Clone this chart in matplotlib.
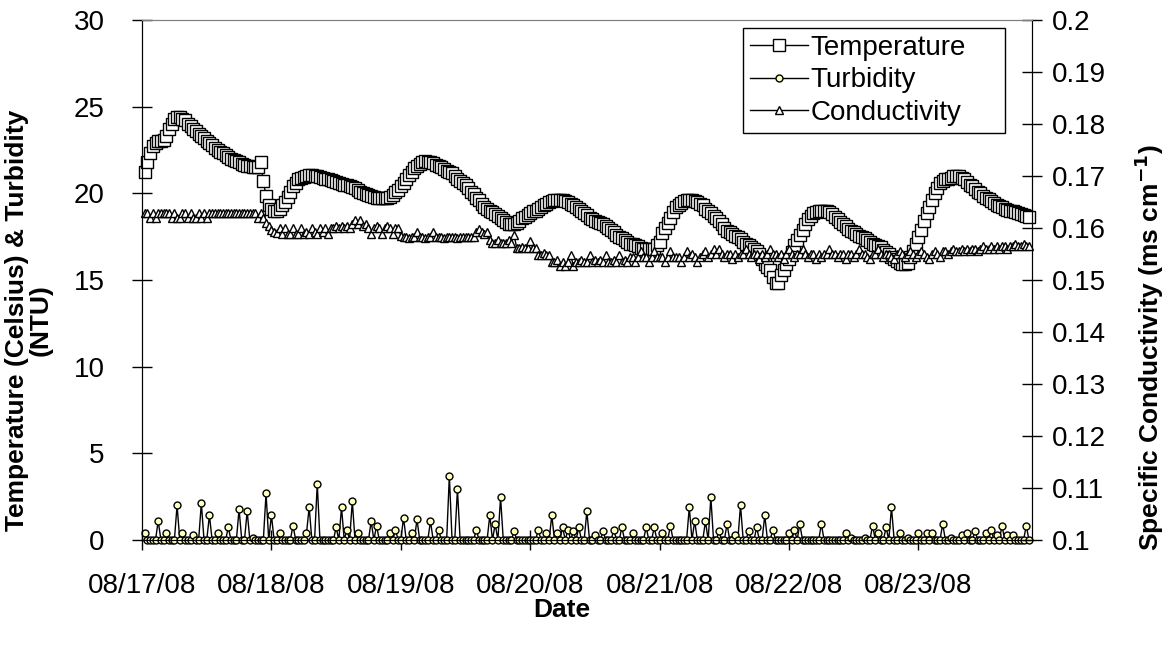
import pandas as pd
import matplotlib
matplotlib.use("Agg")
import matplotlib.pyplot as plt
import matplotlib.dates as mdates
from matplotlib.ticker import FuncFormatter, MultipleLocator

plt.rcParams['font.family'] = ['Liberation Sans', 'DejaVu Sans']

# readings every 30 minutes, first one at 00:30 on 08/17/08
start_time = "2008-08-17 00:30"
sample_step = "30min"

# Temperature (Celsius)
temperature = [
    21.2, 21.8, 22.3, 22.7, 22.9, 23.0, 23.0, 23.1, 23.3, 23.7, 24.0, 24.3, 24.4, 24.4, 24.3, 24.2, 24.0, 23.9, 23.7, 23.6, 23.4, 23.3, 23.2, 23.0,
    22.9, 22.8, 22.6, 22.5, 22.4, 22.3, 22.2, 22.1, 22.0, 21.9, 21.85, 21.8, 21.7, 21.65, 21.6, 21.55, 21.5, 21.5, 21.5, 21.8, 20.7, 19.85, 19.3, 19.1,
    19.0, 19.0, 19.1, 19.3, 19.5, 19.8, 20.1, 20.4, 20.6, 20.8, 20.9, 20.95, 21.0, 21.05, 21.05, 21.0, 21.0, 20.95, 20.9, 20.85, 20.8, 20.75, 20.7, 20.65,
    20.6, 20.55, 20.5, 20.45, 20.4, 20.35, 20.3, 20.2, 20.1, 20.0, 19.95, 19.9, 19.85, 19.8, 19.75, 19.7, 19.7, 19.7, 19.7, 19.8, 19.9, 20.05, 20.2, 20.4,
    20.6, 20.8, 21.05, 21.25, 21.45, 21.6, 21.7, 21.8, 21.85, 21.8, 21.8, 21.75, 21.65, 21.6, 21.5, 21.4, 21.3, 21.2, 21.15, 21.0, 20.85, 20.7, 20.6, 20.45,
    20.3, 20.1, 19.95, 19.75, 19.6, 19.4, 19.2, 19.1, 19.0, 18.9, 18.8, 18.7, 18.55, 18.45, 18.35, 18.25, 18.2, 18.2, 18.3, 18.4, 18.55, 18.65, 18.75, 18.85,
    18.95, 19.0, 19.1, 19.2, 19.3, 19.4, 19.5, 19.55, 19.6, 19.6, 19.6, 19.6, 19.55, 19.5, 19.4, 19.3, 19.2, 19.1, 18.95, 18.85, 18.75, 18.6, 18.5, 18.4,
    18.35, 18.3, 18.2, 18.1, 18.0, 17.9, 17.75, 17.6, 17.5, 17.4, 17.3, 17.2, 17.1, 17.05, 17.0, 16.95, 16.85, 16.8, 16.8, 16.8, 16.8, 16.8, 17.0, 17.2,
    17.7, 18.0, 18.3, 18.6, 18.9, 19.2, 19.35, 19.45, 19.55, 19.6, 19.6, 19.6, 19.55, 19.5, 19.4, 19.3, 19.1, 19.0, 18.85, 18.7, 18.55, 18.4, 18.2, 18.0,
    17.85, 17.75, 17.65, 17.55, 17.5, 17.35, 17.2, 17.1, 17.0, 16.9, 16.8, 16.65, 16.5, 16.2, 15.95, 15.75, 15.55, 15.2, 14.8, 14.8, 15.3, 15.6, 15.9, 16.2,
    16.6, 17.0, 17.3, 17.6, 17.9, 18.2, 18.5, 18.7, 18.85, 18.9, 18.95, 19.0, 19.0, 18.95, 18.9, 18.8, 18.65, 18.5, 18.35, 18.2, 18.1, 17.95, 17.85, 17.75,
    17.65, 17.55, 17.5, 17.4, 17.3, 17.2, 17.1, 17.0, 16.95, 16.9, 16.75, 16.6, 16.5, 16.35, 16.2, 16.1, 16.0, 15.95, 15.95, 16.0, 16.3, 16.7, 17.1, 17.5,
    17.9, 18.4, 18.85, 19.2, 19.6, 20.0, 20.3, 20.6, 20.7, 20.8, 20.85, 20.9, 21.0, 21.0, 21.0, 20.9, 20.8, 20.65, 20.5, 20.4, 20.25, 20.1, 20.0, 19.85,
    19.75, 19.65, 19.55, 19.45, 19.35, 19.25, 19.2, 19.1, 19.05, 19.0, 18.95, 18.9, 18.85, 18.8, 18.75, 18.7, 18.65,
]

# Turbidity (NTU)
turbidity = [
    0.38, 0, 0, 0, 0, 1.1, 0, 0, 0.38, 0, 0, 0, 2.0, 0, 0.38, 0, 0, 0, 0.3, 0, 0, 2.12, 0, 0,
    1.42, 0, 0, 0.38, 0, 0, 0, 0.73, 0, 0, 0, 1.77, 0, 0, 1.65, 0, 0.1, 0, 0, 0, 0, 2.69, 0, 1.42,
    0, 0, 0.38, 0, 0, 0, 0, 0.83, 0, 0, 0, 0, 0.38, 1.88, 0, 0, 3.25, 0, 0, 0, 0, 0, 0, 0.73,
    0, 1.88, 0, 0.6, 0, 2.23, 0, 0.38, 0, 0, 0, 0, 1.08, 0, 0.83, 0, 0, 0, 0, 0.38, 0, 0.6, 0, 0,
    1.29, 0, 0, 0.38, 0, 1.19, 0, 0, 0, 0, 1.08, 0, 0, 0.6, 0, 0, 0, 3.71, 0, 0, 2.92, 0, 0, 0,
    0, 0, 0, 0.6, 0, 0, 0, 0, 1.42, 0, 0.92, 0, 2.46, 0, 0, 0, 0, 0.5, 0, 0, 0, 0, 0, 0,
    0, 0, 0.6, 0, 0, 0.38, 0, 1.42, 0, 0.38, 0, 0.73, 0, 0.6, 0, 0.5, 0, 0.73, 0, 0, 1.65, 0, 0, 0.26,
    0, 0, 0.5, 0, 0, 0, 0.6, 0, 0, 0.73, 0, 0, 0, 0.38, 0, 0, 0, 0, 0.73, 0, 0, 0.73, 0, 0,
    0.38, 0, 0, 0.83, 0, 0, 0, 0, 0, 0, 1.88, 0, 1.08, 0, 0, 0, 1.08, 0, 2.46, 0, 0, 0.5, 0, 0,
    0.92, 0, 0, 0.26, 0, 2.0, 0, 0, 0.5, 0, 0, 0.73, 0, 0, 1.42, 0, 0, 0.6, 0, 0, 0, 0, 0, 0.38,
    0, 0.6, 0, 0.92, 0, 0, 0, 0, 0, 0, 0, 0.92, 0, 0, 0, 0, 0, 0, 0, 0, 0.38, 0, 0.1, 0,
    0, 0, 0, 0.1, 0, 0, 0.83, 0, 0.38, 0, 0, 0.73, 0, 1.88, 0, 0, 0.38, 0, 0, 0.1, 0, 0, 0, 0.38,
    0, 0, 0.38, 0, 0.38, 0, 0, 0, 0.92, 0, 0, 0.1, 0, 0, 0, 0.26, 0, 0.38, 0, 0, 0.5, 0, 0, 0,
    0.38, 0, 0.6, 0, 0.26, 0, 0.83, 0, 0.26, 0, 0.26, 0, 0, 0, 0, 0.83, 0,
]

# Specific conductivity (ms cm-1)
conductivity = [
    0.1628, 0.1628, 0.1619, 0.1628, 0.1619, 0.1628, 0.1628, 0.1628, 0.1628, 0.1628, 0.1619, 0.1628,
    0.1619, 0.1619, 0.1628, 0.1628, 0.1619, 0.1628, 0.1619, 0.1619, 0.1628, 0.1619, 0.1628, 0.1619,
    0.1628, 0.1628, 0.1628, 0.1628, 0.1628, 0.1628, 0.1628, 0.1628, 0.1628, 0.1628, 0.1628, 0.1628,
    0.1628, 0.1628, 0.1628, 0.1628, 0.1628, 0.1628, 0.1619, 0.1628, 0.1619, 0.1610, 0.1603, 0.1597,
    0.1592, 0.1590, 0.1600, 0.1588, 0.1600, 0.1588, 0.1588, 0.1600, 0.1588, 0.1588, 0.1600, 0.1588,
    0.1593, 0.1588, 0.1600, 0.1593, 0.1588, 0.1600, 0.1593, 0.1600, 0.1588, 0.1600, 0.1600, 0.1603,
    0.1600, 0.1603, 0.1600, 0.1603, 0.1600, 0.1608, 0.1615, 0.1608, 0.1615, 0.1603, 0.1608, 0.1600,
    0.1588, 0.1600, 0.1603, 0.1600, 0.1588, 0.1600, 0.1603, 0.1600, 0.1588, 0.1600, 0.1600, 0.1585,
    0.1583, 0.1583, 0.1580, 0.1583, 0.1583, 0.1593, 0.1583, 0.1583, 0.1580, 0.1583, 0.1583, 0.1593,
    0.1583, 0.1583, 0.1583, 0.1580, 0.1583, 0.1583, 0.1583, 0.1583, 0.1580, 0.1583, 0.1583, 0.1583,
    0.1583, 0.1583, 0.1583, 0.1593, 0.1598, 0.1593, 0.1588, 0.1593, 0.1577, 0.1571, 0.1571, 0.1577,
    0.1571, 0.1571, 0.1571, 0.1577, 0.1571, 0.1587, 0.1561, 0.1561, 0.1564, 0.1561, 0.1561, 0.1574,
    0.1561, 0.1561, 0.1548, 0.1548, 0.1552, 0.1548, 0.1548, 0.1535, 0.1535, 0.1538, 0.1527, 0.1535,
    0.1527, 0.1535, 0.1548, 0.1527, 0.1535, 0.1535, 0.1538, 0.1535, 0.1535, 0.1548, 0.1535, 0.1538,
    0.1535, 0.1538, 0.1535, 0.1548, 0.1535, 0.1535, 0.1538, 0.1535, 0.1548, 0.1535, 0.1538, 0.1535,
    0.1545, 0.1545, 0.1535, 0.1545, 0.1555, 0.1545, 0.1545, 0.1535, 0.1545, 0.1555, 0.1545, 0.1545,
    0.1545, 0.1535, 0.1545, 0.1555, 0.1545, 0.1545, 0.1545, 0.1535, 0.1545, 0.1555, 0.1545, 0.1550,
    0.1545, 0.1535, 0.1545, 0.1550, 0.1555, 0.1545, 0.1550, 0.1560, 0.1550, 0.1560, 0.1550, 0.1545,
    0.1550, 0.1550, 0.1540, 0.1550, 0.1545, 0.1550, 0.1550, 0.1560, 0.1550, 0.1545, 0.1550, 0.1550,
    0.1540, 0.1550, 0.1545, 0.1550, 0.1560, 0.1550, 0.1550, 0.1545, 0.1550, 0.1540, 0.1550, 0.1560,
    0.1550, 0.1545, 0.1550, 0.1550, 0.1560, 0.1550, 0.1545, 0.1550, 0.1550, 0.1540, 0.1550, 0.1545,
    0.1550, 0.1550, 0.1560, 0.1550, 0.1550, 0.1545, 0.1550, 0.1550, 0.1540, 0.1550, 0.1550, 0.1545,
    0.1550, 0.1560, 0.1550, 0.1550, 0.1545, 0.1540, 0.1550, 0.1550, 0.1560, 0.1550, 0.1545, 0.1550,
    0.1550, 0.1545, 0.1540, 0.1550, 0.1555, 0.1550, 0.1545, 0.1550, 0.1555, 0.1550, 0.1545, 0.1550,
    0.1555, 0.1550, 0.1545, 0.1540, 0.1550, 0.1555, 0.1550, 0.1545, 0.1555, 0.1555, 0.1550, 0.1555,
    0.1560, 0.1555, 0.1555, 0.1560, 0.1555, 0.1560, 0.1555, 0.1560, 0.1560, 0.1555, 0.1560, 0.1565,
    0.1560, 0.1560, 0.1565, 0.1560, 0.1565, 0.1560, 0.1565, 0.1565, 0.1560, 0.1565, 0.1565, 0.1570,
    0.1565, 0.1565, 0.1570, 0.1565, 0.1565,
]

times = pd.date_range(start_time, periods=len(temperature), freq=sample_step)

fig = plt.figure(figsize=(11.68, 6.48), dpi=100)
ax = fig.add_axes([0.1216, 0.1667, 0.762, 0.8025])
ax2 = ax.twinx()

l1, = ax.plot(times, temperature, color="black", lw=1, marker="s", ms=8,
              mfc="white", mec="black", mew=1, label="Temperature", clip_on=False)
l2, = ax.plot(times, turbidity, color="black", lw=1, marker="o", ms=5,
              mfc="#FFFFC0", mec="black", mew=1, label="Turbidity", clip_on=False)
l3, = ax2.plot(times, conductivity, color="black", lw=1, marker="^", ms=6,
               mfc="white", mec="black", mew=1, label="Conductivity", clip_on=False)

# axes ranges
x0 = pd.Timestamp("2008-08-17")
ax.set_xlim(x0, x0 + pd.Timedelta(days=6.878))
ax.set_ylim(0, 30)
ax2.set_ylim(0.1, 0.2)
ax.yaxis.set_major_locator(MultipleLocator(5))
ax2.yaxis.set_major_locator(MultipleLocator(0.01))
ax2.yaxis.set_major_formatter(FuncFormatter(lambda v, p: f"{round(v, 2):g}"))
ax.xaxis.set_major_locator(mdates.DayLocator())
ax.xaxis.set_major_formatter(mdates.DateFormatter("%m/%d/%y"))

for a in (ax, ax2):
    a.tick_params(direction="inout", length=14, width=1, labelsize=20)
    a.spines["top"].set_color("#808080")
ax.tick_params(axis="x", pad=17)
ax.tick_params(axis="y", pad=20)
ax2.tick_params(axis="y", pad=7)

ax.set_xlabel("Date", fontsize=19, fontweight="bold")
ax.xaxis.set_label_coords(0.472, -0.1115)
ax.set_ylabel("Temperature (Celsius) & Turbidity\n(NTU)", fontsize=19,
              fontweight="bold", linespacing=0.95)
ax.yaxis.set_label_coords(-0.101, 0.423)
ax2.set_ylabel("Specific Conductivity (ms cm$^{\\mathbf{-1}}$)", fontsize=19,
               fontweight="bold", rotation=90)
ax2.yaxis.set_label_coords(1.113, 0.369)

leg = ax2.legend([l1, l2, l3], ["Temperature", "Turbidity", "Conductivity"],
                 loc="upper left", mode="expand",
                 bbox_to_anchor=(743 / 1168, 1 - 135 / 648, 262 / 1168, 107 / 648),
                 bbox_transform=fig.transFigure, borderaxespad=0, fontsize=20,
                 frameon=True, fancybox=False, edgecolor="black", framealpha=1,
                 handlelength=2.1, handletextpad=0.07, labelspacing=0.23,
                 borderpad=0.25)
leg.get_frame().set_linewidth(1)

fig.savefig("out.png", dpi=100)
